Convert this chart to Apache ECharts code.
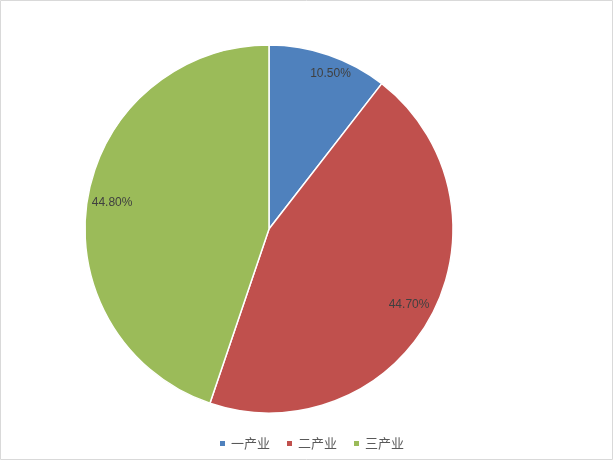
<!DOCTYPE html>
<html><head><meta charset="utf-8">
<script src="https://cdn.jsdelivr.net/npm/echarts@6/dist/echarts.min.js"></script>
<style>html,body{margin:0;padding:0;background:#fff}#c{width:613px;height:460px}</style>
</head><body><div id="c"></div>
<script>
const categories = ['一产业', '二产业', '三产业'];
const shares = [10.5, 44.7, 44.8];
const colors = ['#4F81BD', '#C0504D', '#9BBB59'];

const data = categories.map((n, i) => ({ name: n, value: shares[i], itemStyle: { color: colors[i] } }));
const chart = echarts.init(document.getElementById('c'), null, { renderer: 'canvas' });
chart.setOption({
  animation: false,
  graphic: [{ type: 'rect', shape: { x: 0.5, y: 0.5, width: 612, height: 459 }, style: { fill: 'none', stroke: '#d9d9d9', lineWidth: 1 }, z: 0 }],
  legend: {
    data: categories, top: 437, left: 218, padding: 0, itemWidth: 7, itemHeight: 7, itemGap: 15, icon: 'rect',
    textStyle: { color: '#595959', fontSize: 13, fontFamily: 'Noto Sans CJK SC' }
  },
  series: [
    {
      type: 'pie', center: [269, 229], radius: [0, 184], startAngle: 90, clockwise: true,
      data: data, label: { show: false }, labelLine: { show: false },
      itemStyle: { borderColor: '#fff', borderWidth: 1.5 }, emphasis: { disabled: true }
    },
    {
      type: 'pie', center: [269, 229], radius: [148, 164], startAngle: 90, clockwise: true, silent: true,
      data: categories.map((n, i) => ({ name: n, value: shares[i], label: i === 0 ? { offset: [10, -5] } : {} })),
      itemStyle: { color: 'rgba(0,0,0,0)' },
      label: { show: true, position: 'inside', formatter: p => p.value.toFixed(2) + '%', color: '#404040', fontSize: 12, fontFamily: 'Liberation Sans' },
      labelLine: { show: false }, emphasis: { disabled: true }
    }
  ]
});
</script></body></html>
